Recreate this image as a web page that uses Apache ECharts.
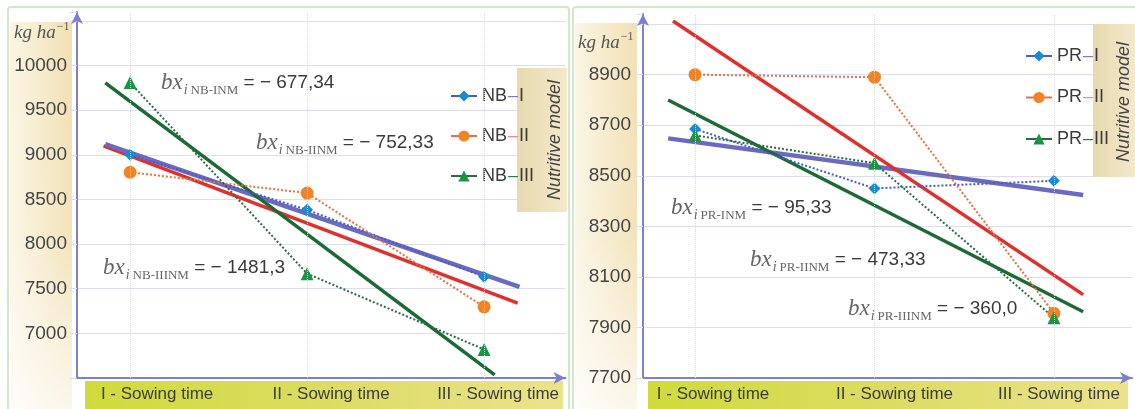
<!DOCTYPE html>
<html><head><meta charset="utf-8">
<script src="https://cdn.jsdelivr.net/npm/echarts@6/dist/echarts.min.js"></script>
<style>html,body{margin:0;padding:0;background:#fff}#c{width:1135px;height:409px}</style>
</head><body><div id="c"></div>
<script>
// ---------- data ----------
const sowingLabels = ['I - Sowing time', 'II - Sowing time', 'III - Sowing time'];
const sowingX = [1, 2, 3];

const nbNames = ['NB-I', 'NB-II', 'NB-III'];
const nbI = [9000, 8384, 7635];
const nbII = [8805, 8572, 7297];
const nbIII = [9809, 7669, 6820];
const nbTrendI = [[0.86, 9120], [3.2, 7520]];
const nbTrendII = [[0.85, 9100], [3.19, 7340]];
const nbTrendIII = [[0.86, 9805], [3.06, 6535]];
const nbCoefSub = ['NB-INM', 'NB-IINM', 'NB-IIINM'];
const nbCoefVal = ['− 677,34', '− 752,33', '− 1481,3'];

const prNames = ['PR-I', 'PR-II', 'PR-III'];
const prI = [8685, 8450, 8480];
const prII = [8900, 8890, 7956];
const prIII = [8660, 8550, 7938];
const prTrendI = [[0.85, 8648], [3.163, 8424]];
const prTrendII = [[0.877, 9112], [3.163, 8030]];
const prTrendIII = [[0.85, 8800], [3.163, 7962]];
const prCoefSub = ['PR-INM', 'PR-IINM', 'PR-IIINM'];
const prCoefVal = ['− 95,33', '− 473,33', '− 360,0'];

const leftTicks = [7000, 7500, 8000, 8500, 9000, 9500, 10000];
const rightTicks = [7700, 7900, 8100, 8300, 8500, 8700, 8900];

// ---------- styles ----------
const axisColor = '#7b80d0';
const gridColor = '#dcdcf2';
const markerColors = ['#1a8ad4', '#f08228', '#1a9444'];
const dotColors = ['#4a5cc8', '#e8703c', '#2a6a42'];
const trendColors = ['#6a6ac0', '#e0302c', '#1c6a34'];
const dashColors = ['#7c7cd0', '#ee8a84', '#2e7a4a'];
const symbols = ['diamond', 'circle', 'triangle'];
const symbolSizes = [12, 13, 13];
const sans = 'Liberation Sans';
const serif = 'Liberation Serif';

const chart = echarts.init(document.getElementById('c'), null, {renderer: 'canvas'});
const G = echarts.graphic;

function sowAxis(gridIndex, min, max, offsets) {
  const rich = {};
  offsets.forEach((o, i) => {
    rich['c' + i] = {fontSize: 17, fontFamily: sans, color: '#3d3d3d', padding: [0, 0, 0, 2 * o]};
  });
  return {
    gridIndex, type: 'value', min, max,
    axisLine: {show: true, onZero: false, lineStyle: {color: axisColor, width: 2},
      symbol: ['none', 'arrow'], symbolSize: [9, 12]},
    axisTick: {show: false},
    splitLine: {show: false},
    axisLabel: {
      customValues: sowingX, margin: 8, fontSize: 17, color: '#3d3d3d', fontFamily: sans,
      formatter: v => { const i = Math.round(v) - 1; return '{c' + i + '|' + sowingLabels[i] + '}'; },
      rich
    }
  };
}

function valAxis(gridIndex, min, max, interval, ticks, margin) {
  return {
    gridIndex, type: 'value', min, max, interval,
    axisLine: {show: true, lineStyle: {color: axisColor, width: 2},
      symbol: ['none', 'arrow'], symbolSize: [9, 12]},
    axisTick: {show: true, length: 7, lineStyle: {color: gridColor}},
    axisLabel: {margin, fontSize: 19, color: '#454545', fontFamily: sans,
      formatter: v => ticks.indexOf(v) >= 0 ? String(v) : ''},
    splitLine: {show: true, showMinLine: false, showMaxLine: false, lineStyle: {color: gridColor, width: 1}}
  };
}

function legendCfg(names, left, top, gap) {
  const rich = {t: {fontSize: 18, fontFamily: sans, color: '#3a3a3a', lineHeight: 18}};
  dashColors.forEach((c, i) => {
    rich['d' + i] = {fontSize: 18, fontFamily: sans, color: c, lineHeight: 18, padding: [0, 1, 0, 1]};
  });
  return {
    data: names, orient: 'vertical', left, top, itemGap: gap, itemWidth: 26, itemHeight: 14,
    padding: 0, selectedMode: false,
    formatter: n => { const i = names.indexOf(n); const p = n.split('-'); return '{t|' + p[0] + '}{d' + i + '|–}{t|' + p[1] + '}'; },
    textStyle: {fontSize: 18, color: '#3a3a3a', rich},
    itemStyle: {borderWidth: 0},
    lineStyle: {type: 'solid', width: 2}
  };
}

function dataSeries(name, values, k, gi) {
  return {
    name, type: 'line', xAxisIndex: gi, yAxisIndex: gi, z: 3,
    data: values.map((v, i) => [sowingX[i], v]),
    symbol: symbols[k], symbolSize: symbolSizes[k],
    itemStyle: {color: markerColors[k], borderWidth: 0},
    lineStyle: {color: dotColors[k], width: 2, type: 'dotted'}
  };
}
function trendSeries(data, k, gi, w) {
  return {
    type: 'line', xAxisIndex: gi, yAxisIndex: gi, z: 2, data, symbol: 'none', silent: true,
    lineStyle: {color: trendColors[k], width: w}
  };
}
function catLines(gi) {
  return {
    type: 'line', xAxisIndex: gi, yAxisIndex: gi, data: [], z: 1, silent: true,
    markLine: {silent: true, symbol: ['none', 'none'], label: {show: false},
      lineStyle: {color: '#f0d4bc', type: 'dotted', width: 1},
      data: sowingX.map(x => ({xAxis: x}))}
  };
}

const coefRich = {
  b: {fontFamily: serif, fontStyle: 'italic', fontSize: 23, fill: '#666', lineHeight: 28, verticalAlign: 'middle'},
  i: {fontFamily: serif, fontStyle: 'italic', fontSize: 14, fill: '#666', lineHeight: 14, verticalAlign: 'bottom', padding: [0, 3, 0, 1]},
  s: {fontFamily: serif, fontSize: 13, fill: '#666', lineHeight: 14, verticalAlign: 'bottom'},
  v: {fontFamily: sans, fontSize: 19, fill: '#3a3a3a', lineHeight: 28, verticalAlign: 'middle'}
};
function coefText(sub, val, x, y) {
  return {type: 'text', z: 10, x, y, style: {
    text: '{b|bx}{i|i}{s|' + sub + '}{v| = ' + val + '}', rich: coefRich,
    align: 'left', verticalAlign: 'middle'}};
}
const unitRich = {
  k: {fontFamily: serif, fontStyle: 'italic', fontSize: 19, fill: '#555', lineHeight: 24, verticalAlign: 'middle'},
  s: {fontFamily: serif, fontSize: 12, fill: '#555', lineHeight: 12, verticalAlign: 'top', padding: [0, 0, 0, 1]}
};
function unitText(x, y) {
  return {type: 'text', z: 5, x, y, style: {text: '{k|kg ha}{s|−1}', rich: unitRich, align: 'left', verticalAlign: 'middle'}};
}
function nutText(x, y) {
  return {type: 'text', z: 5, x, y, rotation: Math.PI / 2, style: {
    text: 'Nutritive model', fontFamily: sans, fontStyle: 'italic', fontSize: 18, fill: '#444',
    align: 'center', verticalAlign: 'middle'}};
}
function beige(x, y, w, h) {
  return [
    {type: 'rect', z: -2, shape: {x, y, width: w, height: h}, style: {
      fill: new G.LinearGradient(0, 0, 1, 0, [{offset: 0, color: '#fbf5e4'}, {offset: 1, color: '#f1e0b2'}])}},
    {type: 'rect', z: -2, shape: {x, y, width: w, height: h}, style: {
      fill: new G.LinearGradient(0, 0, 0, 1, [{offset: 0, color: 'rgba(255,255,255,0)'}, {offset: 0.55, color: 'rgba(255,255,255,0.1)'}, {offset: 1, color: 'rgba(255,255,255,0.75)'}])}}
  ];
}
function band(x, w) {
  return {type: 'rect', z: -2, shape: {x, y: 381, width: w, height: 30}, style: {
    fill: new G.LinearGradient(0, 0, 1, 0, [{offset: 0, color: '#cfdb3c'}, {offset: 0.5, color: '#dcdc62'}, {offset: 1, color: '#ebe38c'}])}};
}
function nutBox(x, y, w, h) {
  return {type: 'rect', z: 1, shape: {x, y, width: w, height: h}, style: {
    fill: new G.LinearGradient(0, 0, 1, 0, [{offset: 0, color: '#e8d9ae'}, {offset: 1, color: '#f3e9cc'}])}};
}

const elements = [
  {type: 'rect', z: -3, shape: {x: 8, y: 7, width: 561, height: 412, r: 3}, style: {fill: 'none', stroke: '#d3e8c8', lineWidth: 2}},
  {type: 'rect', z: -3, shape: {x: 573, y: 7, width: 575, height: 412, r: 3}, style: {fill: 'none', stroke: '#d3e8c8', lineWidth: 2}},
  ...beige(10, 22, 62, 390),
  ...beige(575, 23, 62, 390),
  band(85, 478),
  band(648, 480),
  nutBox(517, 68, 50, 144),
  nutBox(1093, 24, 42, 153),
  nutText(555, 140),
  nutText(1124, 102),
  unitText(14, 33),
  unitText(578, 43),
  coefText(nbCoefSub[0], nbCoefVal[0], 161, 83),
  coefText(nbCoefSub[1], nbCoefVal[1], 256, 143),
  coefText(nbCoefSub[2], nbCoefVal[2], 103, 268),
  coefText(prCoefSub[0], prCoefVal[0], 671, 208),
  coefText(prCoefSub[1], prCoefVal[1], 750, 260),
  coefText(prCoefSub[2], prCoefVal[2], 848, 309)
];

const option = {
  animation: false,
  backgroundColor: '#ffffff',
  grid: [
    {left: 77, top: 12, width: 488.5, height: 366},
    {left: 643, top: 14, width: 489, height: 364}
  ],
  xAxis: [
    sowAxis(0, 0.7, 3.46, [27, 24, 14]),
    sowAxis(1, 0.71, 3.435, [18, 20, 5])
  ],
  yAxis: [
    valAxis(0, 6500, 10600, 500, leftTicks, 10),
    valAxis(1, 7700, 9140, 200, rightTicks, 12)
  ],
  legend: [
    legendCfg(nbNames, 450, 87, 22),
    legendCfg(prNames, 1025, 47, 23.5)
  ],
  graphic: {elements},
  series: [
    catLines(0),
    trendSeries(nbTrendII, 1, 0, 3.5),
    trendSeries(nbTrendI, 0, 0, 4.5),
    trendSeries(nbTrendIII, 2, 0, 3.5),
    dataSeries(nbNames[0], nbI, 0, 0),
    dataSeries(nbNames[1], nbII, 1, 0),
    dataSeries(nbNames[2], nbIII, 2, 0),
    catLines(1),
    trendSeries(prTrendI, 0, 1, 4.5),
    trendSeries(prTrendII, 1, 1, 3.5),
    trendSeries(prTrendIII, 2, 1, 3.5),
    dataSeries(prNames[0], prI, 0, 1),
    dataSeries(prNames[1], prII, 1, 1),
    dataSeries(prNames[2], prIII, 2, 1)
  ]
};
chart.setOption(option);
</script>
</body></html>
